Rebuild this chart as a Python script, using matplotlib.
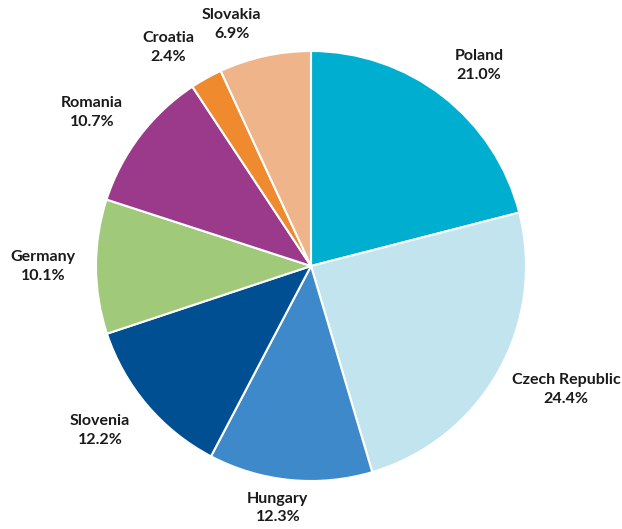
import matplotlib.pyplot as plt
import numpy as np

# Share of each country, in percent, clockwise from the top
countries = ["Poland", "Czech Republic", "Hungary", "Slovenia",
             "Germany", "Romania", "Croatia", "Slovakia"]
shares = [21.0, 24.4, 12.3, 12.2, 10.1, 10.7, 2.4, 6.9]

colors = ["#00AECF", "#C1E4EE", "#3D89CA", "#004F93",
          "#A1C97A", "#9B3A8A", "#EF8A2E", "#EFB489"]
# label placement: distance in pie radii and angle nudge in degrees
label_r = [1.218, 1.319, 1.136, 1.243, 1.247, 1.245, 1.213, 1.184]
label_nudge = [-2.1, 3.6, -2.2, -2.4, 0.0, 2.2, 4.1, 5.7]

plt.rcParams['font.family'] = ['Lato', 'DejaVu Sans']

fig = plt.figure(figsize=(6.22, 5.29), dpi=100)
ax = fig.add_axes([0, 0, 1, 1])

wedges, _ = ax.pie(shares, colors=colors, startangle=90, counterclock=False,
                   radius=1.0, center=(0, 0),
                   wedgeprops=dict(edgecolor="white", linewidth=1.5))

for w, name, val, r, d in zip(wedges, countries, shares, label_r, label_nudge):
    mid = np.deg2rad((w.theta1 + w.theta2) / 2 + d)
    ax.text(r * np.cos(mid), r * np.sin(mid), f"{name}\n{val:.1f}%",
            ha="center", va="center", fontsize=11.5, fontweight="bold",
            color="#1A1A1A", linespacing=1.45)

# pie radius 215 px centred at (311, 266) px
ax.set_xlim(-311 / 215, (622 - 311) / 215)
ax.set_ylim(-(529 - 266) / 215, 266 / 215)
ax.set_aspect("auto")
ax.axis("off")

fig.savefig("out.png", dpi=100)
